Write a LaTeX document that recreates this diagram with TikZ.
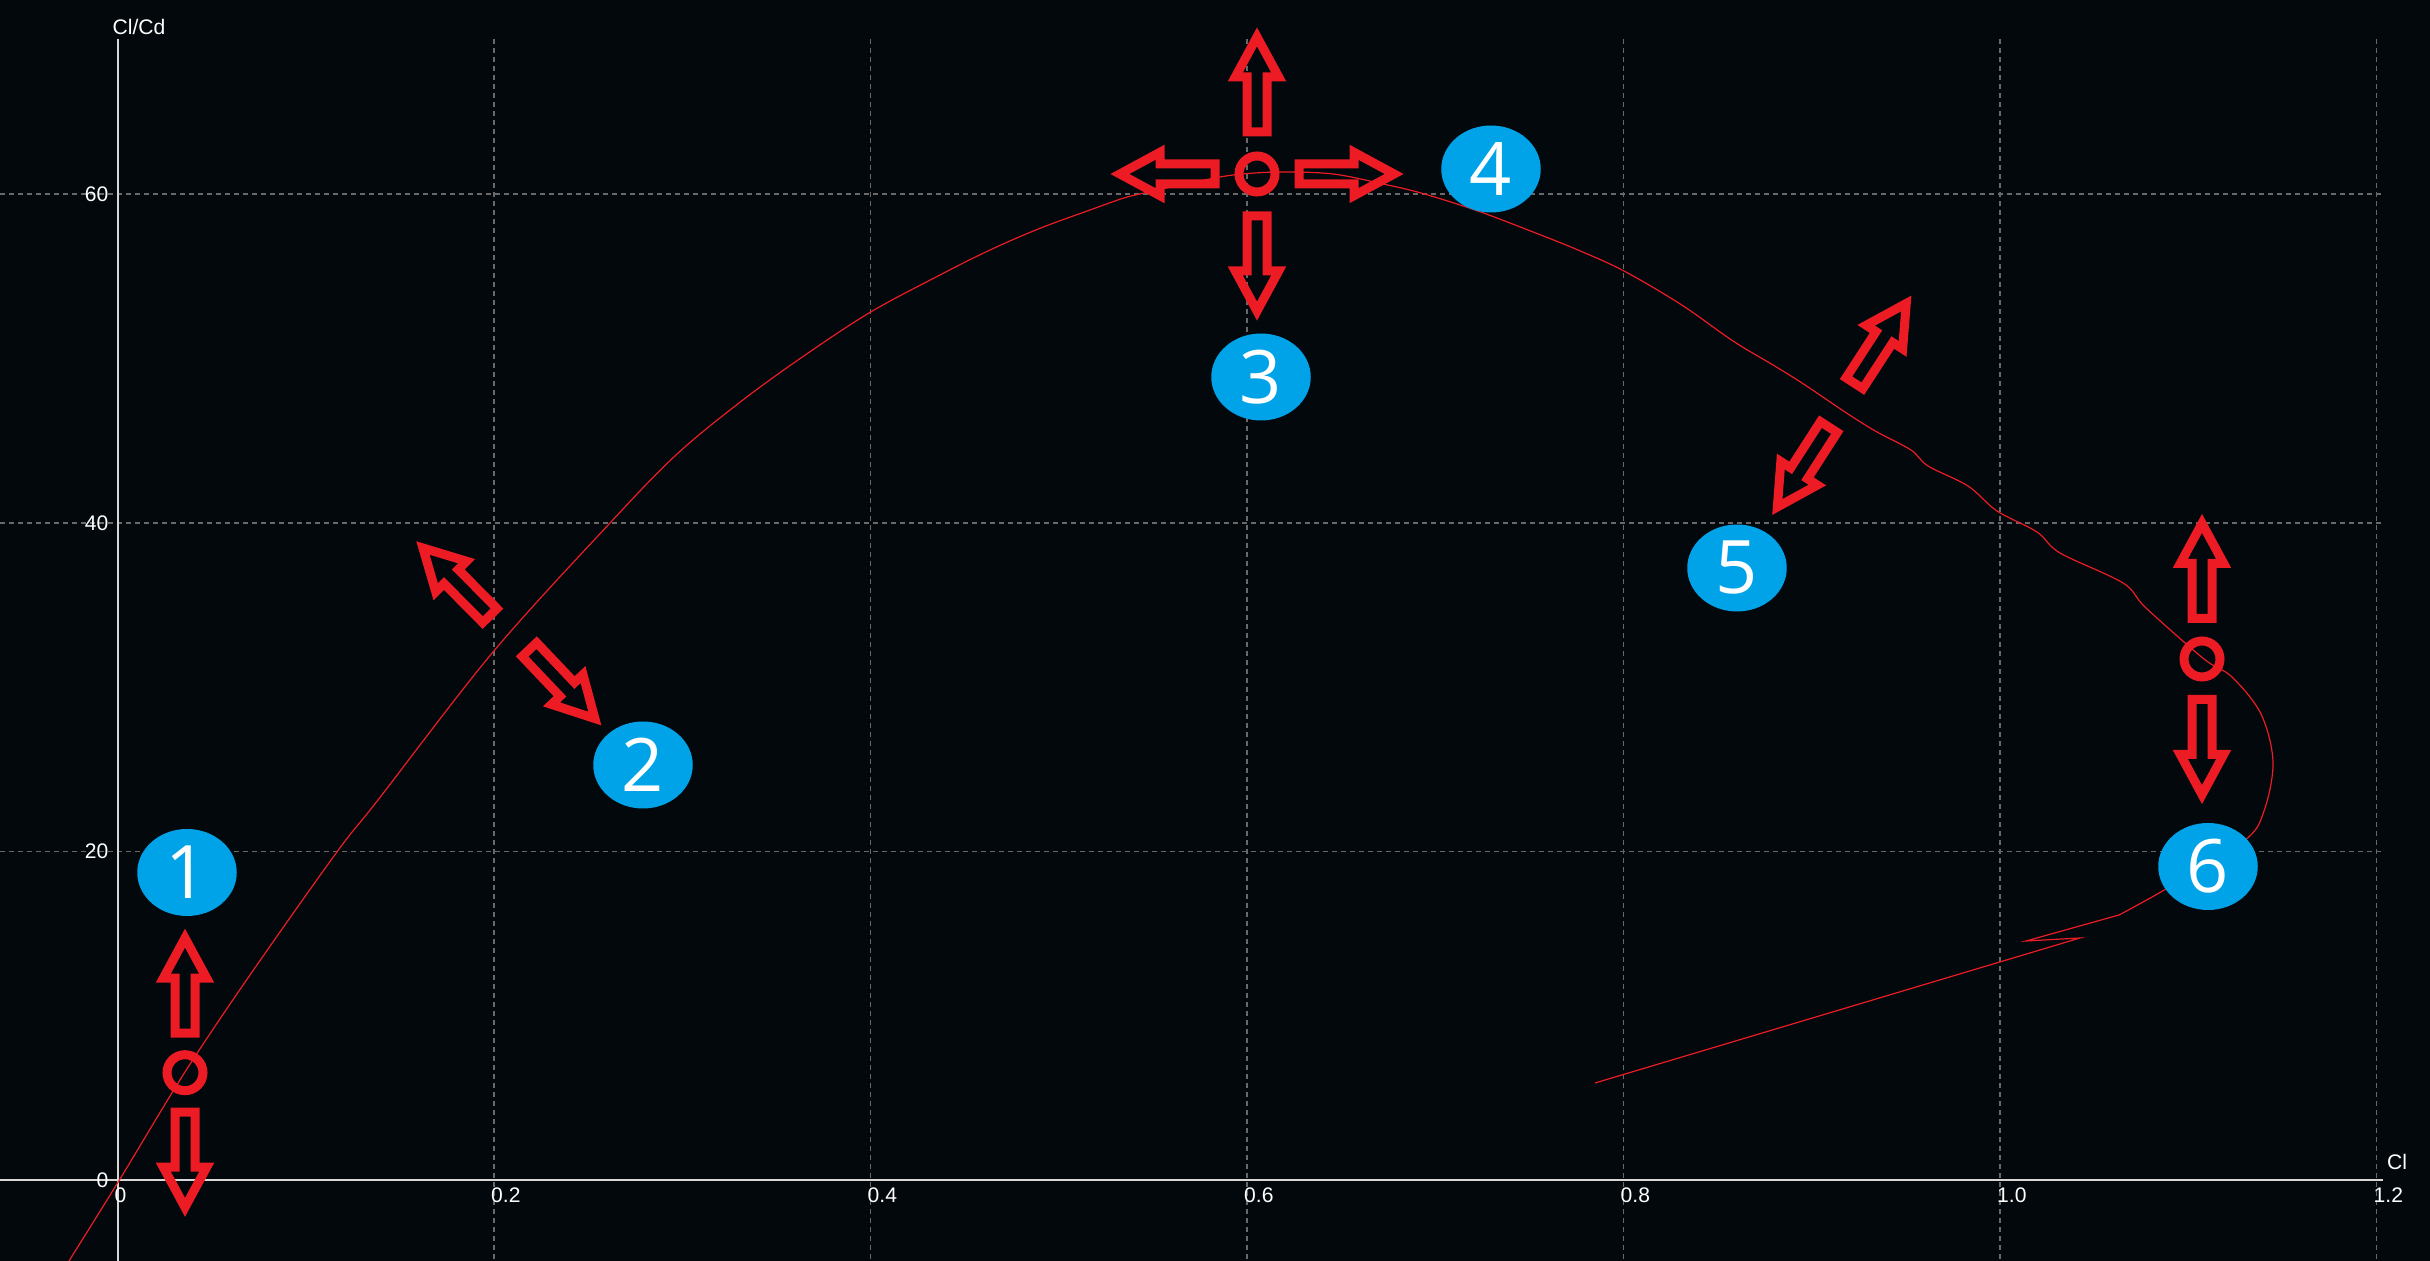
\documentclass[tikz,border=0pt]{standalone}
\usepackage{fontspec}
\setmainfont{Liberation Sans}
\newfontfamily\badgefont{Open Sans}
\usetikzlibrary{shapes.geometric}
\definecolor{bgc}{RGB}{2,8,12}
\definecolor{mkred}{RGB}{237,28,36}
\definecolor{bdgblue}{RGB}{0,162,232}
\definecolor{grdgray}{RGB}{105,105,105}
\definecolor{axsgray}{RGB}{215,215,215}
\begin{document}
\begin{tikzpicture}[
x=0.1mm,
y=-0.1mm,
grd/.style={%
draw=grdgray,
line width=0.15mm,
dash pattern=on 0.5mm off 0.4mm,
},
axs/.style={%
draw=axsgray,
line width=0.15mm,
},
tck/.style={%
text=white,
inner sep=0pt,
font=\fontsize{6}{7}\selectfont,
},
bdg/.style={%
ellipse,
fill=bdgblue,
text=white,
inner sep=0pt,
minimum width=9.95mm,
minimum height=8.7mm,
font=\badgefont\fontsize{21}{24}\selectfont,
},
rng/.style={%
circle,
draw=mkred,
line width=0.9mm,
minimum size=3.6mm,
inner sep=0pt,
},
arr/.style={%
draw=mkred,
line width=0.9mm,
miter limit=10,
},
polar/.style={%
draw=mkred,
line width=0.12mm,
},
barrow/.pic={%
\draw[arr](4.5,-10)--(59.5,-10)--(59.5,-21.7)--(99.6,0)--(59.5,21.7)--(59.5,10)--(4.5,10)--cycle;
},
]
\fill[bgc](0,0)rectangle(2430,1261);
\useasboundingbox(0,0)rectangle(2430,1261);
%% Grid
\foreach \k in {1,...,6}{%
\draw[grd]({117.5+376.5*\k},39)--({117.5+376.5*\k},1261);
}
\foreach \v in {20,40,60}{%
\draw[grd](0,{1180-16.43*\v})--(2383,{1180-16.43*\v});
}
%% Axes
\draw[axs](118,39)--(118,1261);
\draw[axs](0,1180)--(2383,1180);
\node[tck]at(139,27)(ylab){Cl/Cd};
\node[tck]at(2397,1162)(xlab){Cl};
\foreach \k/\t in {0/0,1/0.2,2/0.4,3/0.6,4/0.8,5/1.0,6/1.2}{%
\node[tck,anchor=west]at({114+376.5*\k},1195)(xt_\k){\t};
}
\foreach \v in {0,20,40,60}{%
\node[tck,anchor=east]at(109,{1180-16.43*\v})(yt_\v){\v};
}
%% Polar
\draw[polar]plot[smooth,tension=0.55]coordinates{(69,1261)(119.4,1180)(185,1072)(250,975)
(336.7,852.3)(378,800)(493,652)(610,523)(676,455)(739,403)(798,360)(869,313)(940,275)
(990,250)(1040,228.3)(1090,210)(1123,198.3)(1143,193.3)(1190,183)(1233,175)(1280,172)
(1333,174)(1383,184)(1421,193)(1475,210)(1528,230)(1578,250)(1624,271)(1681,304.5)
(1733,341)(1773,365)(1802,383)(1848,414)(1877,432)(1911,450)(1928,466)(1968,486)(1997,511)
(2037,532)(2060,553)(2123,583)(2146,608)(2204,659)(2232,677)(2261,714)(2273,762)(2264,811)
(2244,841)(2166,889)(2119,915)}--(2026,941)--(2080,938)--(1595,1083);
%% Badges
\node[bdg]at(187,872.5)(b1){1};
\node[bdg]at(643,765)(b2){2};
\node[bdg]at(1261,377)(b3){3};
\node[bdg]at(1491,169)(b4){4};
\node[bdg]at(1737,568)(b5){5};
\node[bdg]at(2208,866.5)(b6){6};
%% Rings and arrows
\node[rng]at(185,1072.7)(r1){};
\node[rng]at(1257,174)(r34){};
\node[rng]at(2202,659)(r6){};
\foreach \a in {90,-90}{%
\pic[rotate=\a]at([shift={(\a:3.5mm)}]r1){barrow};
\pic[rotate=\a]at([shift={(\a:3.6mm)}]r6){barrow};
}
\foreach \a in {0,90,180,-90}{%
\pic[rotate=\a]at([shift={(\a:3.75mm)}]r34){barrow};
}
\pic[rotate=134.7]at(493,618.8){barrow};
\pic[rotate=-46.5]at(526.3,646.3){barrow};
\pic[rotate=57]at(1852,387){barrow};
\pic[rotate=237.2]at(1831.3,423.3){barrow};
\end{tikzpicture}
\end{document}
